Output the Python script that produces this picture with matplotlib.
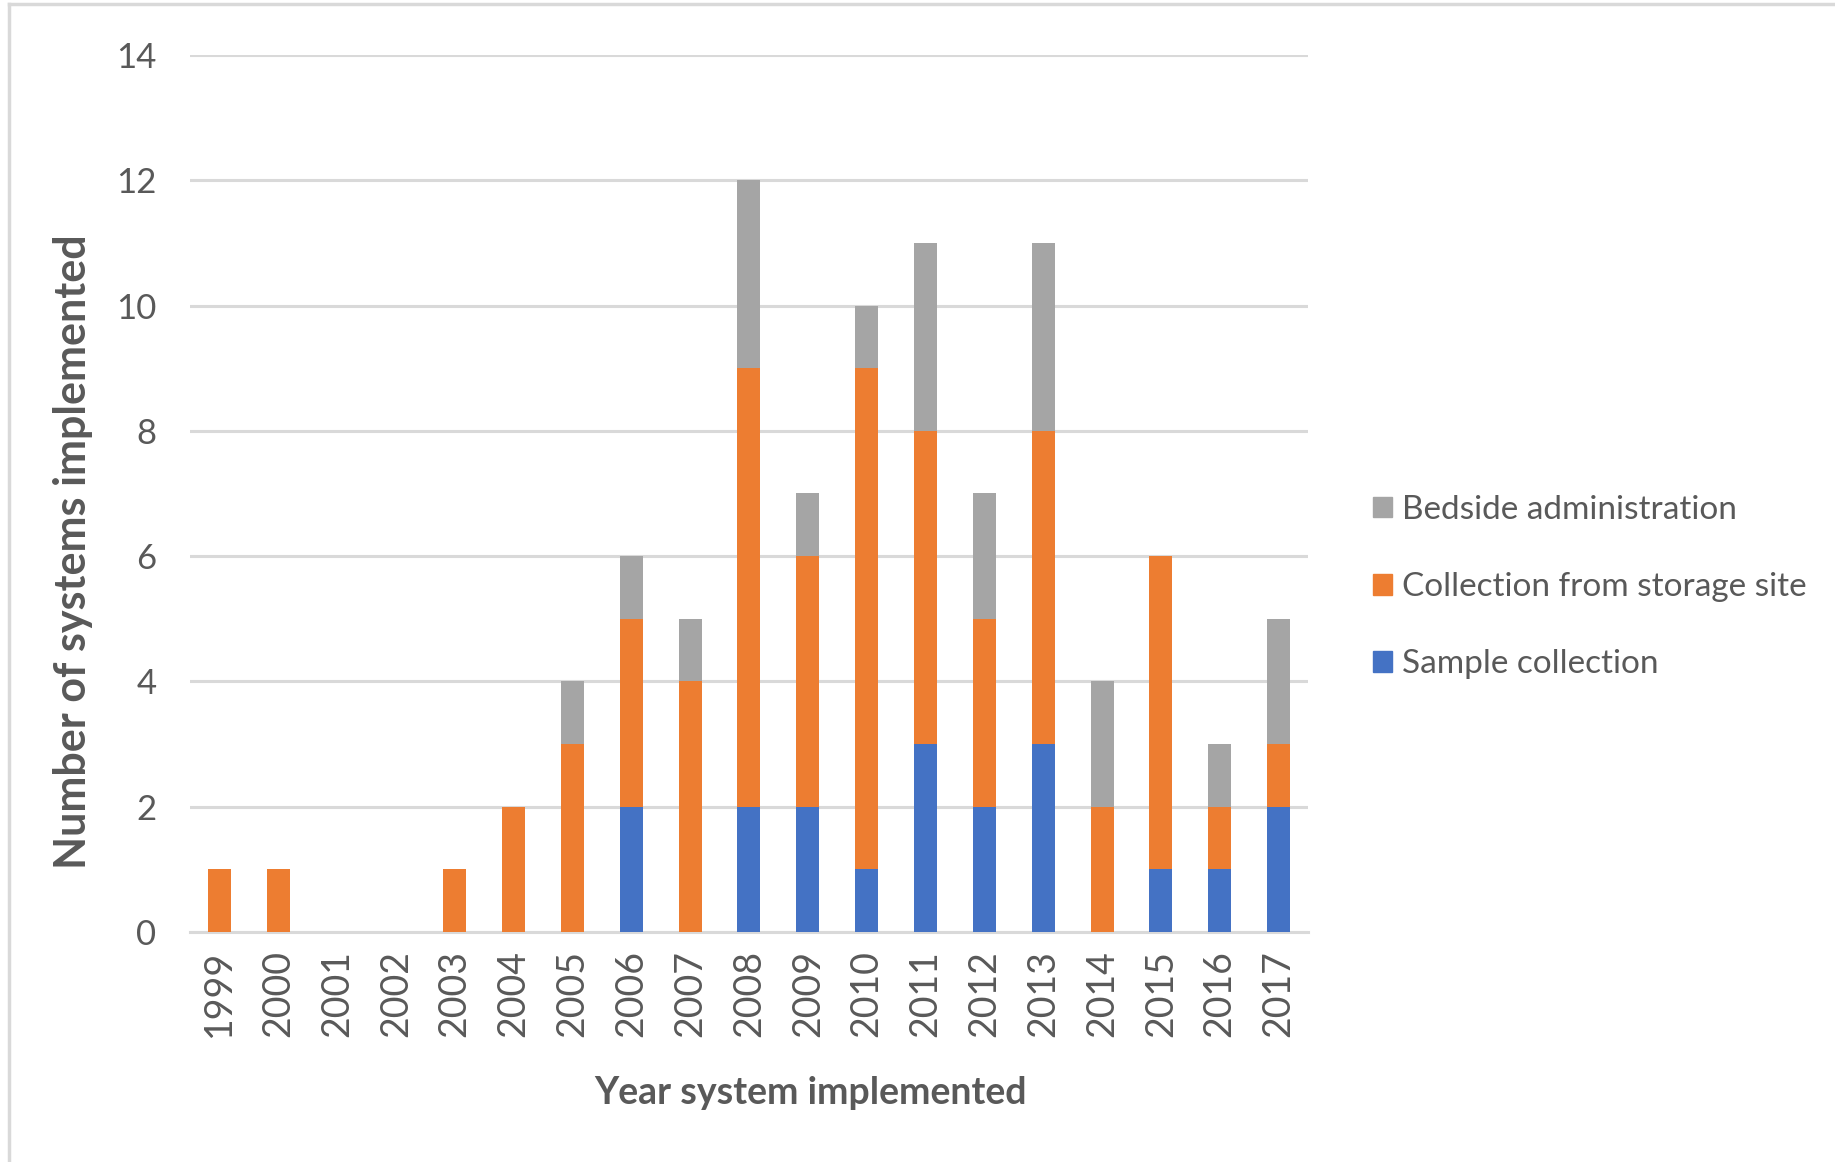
import matplotlib
matplotlib.use("Agg")
import matplotlib.pyplot as plt
from matplotlib.lines import Line2D
from matplotlib.patches import Patch
import numpy as np

years = ["1999", "2000", "2001", "2002", "2003", "2004", "2005", "2006", "2007", "2008",
         "2009", "2010", "2011", "2012", "2013", "2014", "2015", "2016", "2017"]
sample_collection = [0, 0, 0, 0, 0, 0, 0, 2, 0, 2, 2, 1, 3, 2, 3, 0, 1, 1, 2]
storage_collection = [1, 1, 0, 0, 1, 2, 3, 3, 4, 7, 4, 8, 5, 3, 5, 2, 5, 1, 1]
bedside_admin = [0, 0, 0, 0, 0, 0, 1, 1, 1, 3, 1, 1, 3, 2, 3, 2, 0, 1, 2]
series_names = ["Sample collection", "Collection from storage site", "Bedside administration"]
y_ticks = [0, 2, 4, 6, 8, 10, 12, 14]

colors = ["#4472C4", "#ED7D31", "#A5A5A5"]
text_color = "#595959"
grid_color = "#D9D9D9"

plt.rcParams["font.family"] = ["Lato", "DejaVu Sans"]

fig = plt.figure(figsize=(18.35, 11.62), dpi=100)
ax = fig.add_axes([0.1035, 0.198, 0.6093, 0.7547])

x = np.arange(len(years))
width = 0.39
bottom = np.zeros(len(years))
for vals, col in zip([sample_collection, storage_collection, bedside_admin], colors):
    ax.bar(x, vals, width, bottom=bottom, color=col, zorder=3)
    bottom += np.array(vals)

ax.set_xlim(-0.5, len(years) - 0.5)
ax.set_ylim(0, 14)
ax.set_yticks(y_ticks)
ax.set_xticks(x)
ax.set_xticklabels(years, rotation=90)
ax.tick_params(axis="both", length=0, colors=text_color)
ax.tick_params(axis="y", pad=24, labelsize=25)
ax.tick_params(axis="x", pad=13, labelsize=27)
ax.grid(axis="y", color=grid_color, linewidth=2.2, zorder=0)
for side in ["left", "right", "top"]:
    ax.spines[side].set_visible(False)
ax.spines["bottom"].set_color(grid_color)
ax.spines["bottom"].set_linewidth(2.2)

ax.set_ylabel("Number of systems implemented", fontsize=31, fontweight="bold",
              color=text_color, va="center", ha="center")
ax.yaxis.set_label_coords(-0.105, 0.434)
ax.set_xlabel("Year system implemented", fontsize=27, fontweight="bold",
              color=text_color, va="center", ha="center")
ax.xaxis.set_label_coords(0.555, -0.184)

handles = [Patch(color=c) for c in colors[::-1]]
fig.legend(handles, series_names[::-1], loc="center left",
           bbox_to_anchor=(0.748, 0.4948), frameon=False, fontsize=24,
           labelcolor=text_color, handlelength=0.58, handleheight=0.58,
           handletextpad=0.3, labelspacing=1.42, borderpad=0, borderaxespad=0)

# light frame around the chart area
fig.add_artist(Line2D([0.005, 1.0], [0.9965, 0.9965], transform=fig.transFigure,
                      color="#D9D9D9", linewidth=2.5))
fig.add_artist(Line2D([0.005, 0.005], [0.0, 0.9965], transform=fig.transFigure,
                      color="#D9D9D9", linewidth=2.5))

fig.savefig("out.png", dpi=100, facecolor="white")
